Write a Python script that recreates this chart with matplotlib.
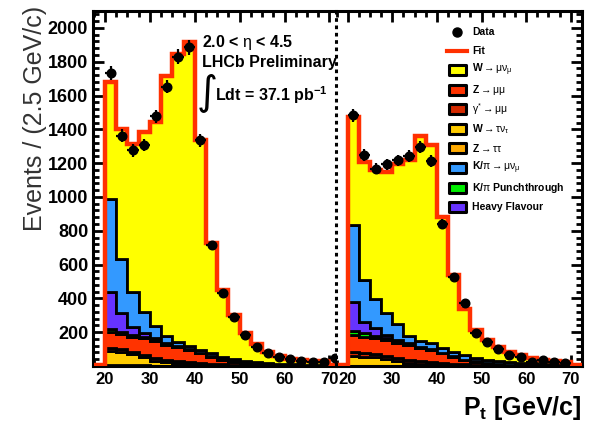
import numpy as np
import matplotlib
matplotlib.use("Agg")
import matplotlib.pyplot as plt
from matplotlib.patches import Rectangle
from matplotlib.lines import Line2D
from matplotlib.ticker import MultipleLocator

plt.rcParams['font.family'] = ['Liberation Sans', 'DejaVu Sans']
plt.rcParams['mathtext.fontset'] = 'custom'
plt.rcParams['mathtext.rm'] = 'Liberation Sans'
plt.rcParams['mathtext.it'] = 'Liberation Sans'
plt.rcParams['mathtext.bf'] = 'Liberation Sans:bold'

# ---------------- binning ----------------
pt_min, pt_max, bin_w = 20.0, 70.0, 2.5

# ---------------- mu+ panel (left) ----------------
data_plus = [1731, 1363, 1275, 1305, 1476, 1653, 1830, 1885, 1334, 714,
             432, 291, 183, 110, 74, 55, 39, 31, 25, 21]
data_plus_overflow = 45
fit_plus = [1678, 1403, 1315, 1383, 1442, 1718, 1846, 1914, 1334, 726,
            450, 300, 195, 128, 82, 58, 42, 36, 30, 27]
fit_plus_outer = [6, 6]
ztautau_plus = [3, 3, 3, 3, 2, 2, 2, 2, 1, 1, 1, 1, 1, 0, 0, 0, 0, 0, 0, 0]
wtaunu_plus = [86, 78, 66, 50, 30, 20, 15, 11, 8, 6, 4, 3, 2, 1, 1, 1, 0, 0, 0, 0]
gstar_plus = [18, 17, 16, 15, 14, 13, 11, 10, 8, 7, 5, 4, 3, 2, 2, 1, 1, 1, 1, 0]
zmumu_plus = [96, 90, 88, 95, 103, 91, 82, 69, 58, 42, 28, 18, 12, 9, 5, 4, 3, 2, 1, 1]
punch_plus = [18, 14, 10, 8, 6, 5, 4, 3, 2, 2, 1, 1, 1, 1, 1, 0, 0, 0, 0, 0]
hf_plus = [215, 110, 50, 25, 13, 8, 5, 3, 2, 2, 1, 1, 1, 1, 0, 0, 0, 0, 0, 0]
kpi_plus = [554, 320, 202, 121, 70, 38, 25, 22, 16, 15, 15, 14, 12, 11, 9, 8, 6, 5, 4, 4]
wmunu_plus = [688, 771, 880, 1066, 1204, 1541, 1702, 1794, 1239, 651,
              395, 258, 163, 103, 64, 44, 32, 28, 24, 22]

# ---------------- mu- panel (right) ----------------
data_minus = [1482, 1246, 1167, 1192, 1216, 1240, 1295, 1212, 838, 527,
              370, 197, 143, 99, 65, 55, 25, 35, 25, 19]
fit_minus = [1470, 1205, 1157, 1150, 1197, 1216, 1360, 1310, 880, 540,
             340, 212, 153, 114, 85, 65, 45, 35, 30, 25]
fit_minus_outer = [6, 6]
ztautau_minus = [2, 2, 2, 2, 2, 2, 1, 1, 1, 1, 1, 0, 0, 0, 0, 0, 0, 0, 0, 0]
wtaunu_minus = [58, 54, 50, 40, 25, 18, 13, 9, 6, 4, 3, 2, 1, 1, 0, 0, 0, 0, 0, 0]
gstar_minus = [22, 22, 21, 20, 19, 17, 15, 13, 11, 9, 7, 5, 4, 3, 2, 1, 1, 1, 0, 0]
zmumu_minus = [101, 95, 90, 91, 88, 87, 75, 71, 57, 41, 24, 18, 12, 8, 6, 4, 3, 2, 1, 1]
punch_minus = [25, 20, 15, 10, 7, 5, 4, 3, 2, 2, 1, 1, 1, 1, 0, 0, 0, 0, 0, 0]
hf_minus = [170, 70, 45, 20, 10, 6, 4, 3, 2, 1, 1, 1, 0, 0, 0, 0, 0, 0, 0, 0]
kpi_minus = [457, 245, 172, 128, 96, 45, 33, 34, 27, 27, 28, 18, 17, 17, 17, 15, 11, 9, 9, 7]
wmunu_minus = [635, 697, 762, 839, 950, 1036, 1215, 1176, 774, 455,
               275, 167, 118, 84, 60, 45, 30, 23, 20, 17]

# ---------------- styling ----------------
c_ztautau = '#ffaa00'
c_wtaunu = '#ffcc00'
c_gstar = '#d42a00'
c_zmumu = '#ff3300'
c_punch = '#00ee00'
c_hf = '#6633ff'
c_kpi = '#3399ff'
c_wmunu = '#ffff00'
c_fit = '#ff3000'
stack_colors = [c_ztautau, c_wtaunu, c_gstar, c_zmumu, c_punch, c_hf, c_kpi, c_wmunu]

edges = np.arange(pt_min, pt_max + 0.01, bin_w)
edges_full = np.arange(pt_min - bin_w, pt_max + bin_w + 0.01, bin_w)
centers = 0.5 * (edges[1:] + edges[:-1])

W_PX, H_PX = 592, 425
fig = plt.figure(figsize=(W_PX / 100, H_PX / 100), dpi=100)


def fx(px):
    return px / W_PX


def fy(py):
    return 1 - py / H_PX


frame_top, frame_bot = 11, 366
divider_x = 336
ax_h = (frame_bot - frame_top) / H_PX
ax_l = fig.add_axes([fx(93), fy(frame_bot), fx(divider_x) - fx(93), ax_h])
ax_r = fig.add_axes([fx(divider_x), fy(frame_bot), fx(582) - fx(divider_x), ax_h])


def draw_panel(ax, comps, fit, fit_outer, data):
    base = np.zeros(len(edges) - 1)
    for i, (vals, col) in enumerate(zip(comps, stack_colors)):
        top = base + np.asarray(vals, float)
        ax.stairs(top, edges, baseline=base, fill=True, facecolor=col,
                  edgecolor='black', linewidth=2.0, zorder=2 + 0.01 * i)
        base = top
    fit_full = np.concatenate([[fit_outer[0]], fit, [fit_outer[1]]])
    ax.stairs(fit_full, edges_full, baseline=None, color=c_fit,
              linewidth=3.2, zorder=3)
    d = np.asarray(data, float)
    ax.errorbar(centers, d, yerr=np.sqrt(d), xerr=bin_w / 2, fmt='o',
                color='black', ms=6.2, elinewidth=1.6, capsize=0, zorder=4)


draw_panel(ax_l,
           [ztautau_plus, wtaunu_plus, gstar_plus, zmumu_plus, punch_plus,
            hf_plus, kpi_plus, wmunu_plus],
           fit_plus, fit_plus_outer, data_plus)
ax_l.errorbar([pt_max + bin_w / 2], [data_plus_overflow],
              yerr=[np.sqrt(data_plus_overflow)], xerr=bin_w / 2, fmt='o',
              color='black', ms=6.2, elinewidth=1.6, capsize=0, zorder=4)
draw_panel(ax_r,
           [ztautau_minus, wtaunu_minus, gstar_minus, zmumu_minus, punch_minus,
            hf_minus, kpi_minus, wmunu_minus],
           fit_minus, fit_minus_outer, data_minus)

ax_l.set_xlim(17.33, 71.45)
ax_r.set_xlim(17.38, 72.53)

yt = list(range(200, 2001, 200))
for ax in (ax_l, ax_r):
    ax.patch.set_visible(False)
    ax.set_ylim(0, 2100)
    ax.set_yticks(yt, labels=[str(v) for v in yt], fontsize=13, fontweight='bold')
    ax.yaxis.set_minor_locator(MultipleLocator(40))
    xt = [20, 30, 40, 50, 60, 70]
    ax.set_xticks(xt, labels=[str(v) for v in xt], fontsize=12, fontweight='bold')
    ax.xaxis.set_minor_locator(MultipleLocator(2.5))
    ax.tick_params(which='both', direction='in', width=2.0, top=True, bottom=True)
    ax.tick_params(which='major', length=8)
    ax.tick_params(which='minor', length=4)
    ax.tick_params(axis='x', pad=4)
    ax.tick_params(axis='y', pad=3.5)
    for s in ax.spines.values():
        s.set_linewidth(2.2)

ax_l.tick_params(axis='y', which='both', left=True, right=False)
ax_r.tick_params(axis='y', which='both', left=False, right=True, labelleft=False)
ax_l.spines['right'].set_visible(False)
ax_r.spines['left'].set_visible(False)

# dotted divider between the two charge panels
fig.add_artist(Line2D([fx(divider_x), fx(divider_x)], [fy(frame_bot), fy(frame_top)],
                      color='black', lw=2.2, linestyle=(0, (1.2, 1.2)),
                      dash_capstyle='butt', transform=fig.transFigure))

# axis titles
fig.text(fx(35), fy(118), 'Events / (2.5 GeV/c)', rotation=90, ha='center',
         va='center', fontsize=18, color='#333333')
fig.text(fx(581), fy(415), r'P$_{\mathbf{t}}$ [GeV/c]', ha='right',
         va='baseline', fontsize=18, fontweight='bold')

# annotation block
fig.text(fx(202), fy(43), r'2.0 < $\eta$ < 4.5', ha='left', va='center',
         fontsize=11.5, fontweight='bold')
fig.text(fx(202), fy(62), 'LHCb Preliminary', ha='left', va='center',
         fontsize=11.5, fontweight='bold')
fig.text(fx(197), fy(92), '\u222b', ha='left', va='center', fontsize=29,
         family=['DejaVu Sans'])
fig.text(fx(215), fy(95), r'Ldt = 37.1 pb$^{\mathbf{-1}}$', ha='left',
         va='center', fontsize=11.5, fontweight='bold')

# legend
leg_x_sw, leg_x_txt = 457, 472
leg_fs = 7.5
fig.add_artist(Line2D([fx(leg_x_sw)], [fy(32)], marker='o', ms=6.5,
                      color='black', transform=fig.transFigure))
fig.text(fx(leg_x_txt), fy(32), 'Data', ha='left', va='center',
         fontsize=leg_fs, fontweight='bold')
fig.add_artist(Line2D([fx(447), fx(467)], [fy(51), fy(51)], color=c_fit,
                      lw=3.0, transform=fig.transFigure))
fig.text(fx(leg_x_txt), fy(51), 'Fit', ha='left', va='center',
         fontsize=leg_fs, fontweight='bold')

legend_rows = [
    (c_wmunu, r'W$\rightarrow\mu\nu_{\mu}$'),
    (c_zmumu, r'Z$\rightarrow\mu\mu$'),
    (c_gstar, r'$\gamma^{*}\rightarrow\mu\mu$'),
    (c_wtaunu, r'W$\rightarrow\tau\nu_{\tau}$'),
    (c_ztautau, r'Z$\rightarrow\tau\tau$'),
    (c_kpi, r'K/$\pi\rightarrow\mu\nu_{\mu}$'),
    (c_punch, r'K/$\pi$ Punchthrough'),
    (c_hf, 'Heavy Flavour'),
]
row_y0, row_dy = 70, 19.6
sw_w, sw_h = 17, 10
for k, (col, lab) in enumerate(legend_rows):
    yc = row_y0 + k * row_dy
    fig.add_artist(Rectangle((fx(leg_x_sw - sw_w / 2), fy(yc + sw_h / 2)),
                             sw_w / W_PX, sw_h / H_PX, facecolor=col,
                             edgecolor='black', lw=2.2, joinstyle='round',
                             transform=fig.transFigure))
    fig.text(fx(leg_x_txt), fy(yc), lab, ha='left', va='center',
             fontsize=leg_fs, fontweight='bold')

fig.savefig('out.png', dpi=100)
